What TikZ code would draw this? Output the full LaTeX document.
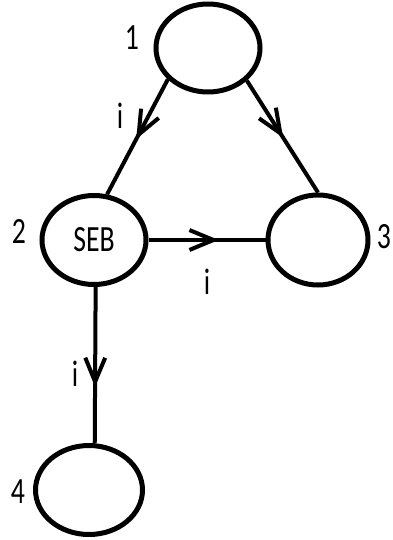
\documentclass[tikz,border=0pt]{standalone}
\usepackage{fontspec}
\setmainfont{Carlito}
\usetikzlibrary{shapes.geometric,arrows.meta,decorations.markings}
\newcommand{\nt}[1]{\scalebox{0.75}[1]{#1}}
\begin{document}
\begin{tikzpicture}[x=1pt,y=-1pt,
  state/.style={ellipse, draw, line width=5pt, inner sep=0pt, font=\fontsize{37}{42}\selectfont},
  lbl/.style={inner sep=0pt, font=\fontsize{37}{42}\selectfont, text=black},
  flow/.style={line width=4pt, postaction={decorate},
    decoration={markings, mark=at position #1 with {\arrow{Straight Barb[angle=45:26pt, line width=4pt]}}}}]
\useasboundingbox (0,0) rectangle (392,540);
% states
\node[state, minimum width=104pt, minimum height=88pt] (n1) at (208,48) {};
\node[state, minimum width=104pt, minimum height=89pt] (n2) at (94,240) {\nt{SEB}};
\node[state, minimum width=100pt, minimum height=90pt] (n3) at (318,240) {};
\node[state, minimum width=107pt, minimum height=89pt] (n4) at (89,490) {};
% state labels
\node[lbl] (l1) at (132,38) {\nt{1}};
\node[lbl] (l2) at (19,231) {\nt{2}};
\node[lbl] (l3) at (384,237) {\nt{3}};
\node[lbl] (l4) at (18,492) {\nt{4}};
% connectors
\draw[flow=0.52] (n1.218) -- (n2.74);
\draw[flow=0.51] (n1.320) -- (n3.90);
\draw[flow=0.6] (n2.east) -- (n3.west);
\draw[flow=0.64] (n2.272) -- (n4.83);
% connector labels
\node[lbl] (i1) at (120,116) {\nt{i}};
\node[lbl] (i2) at (207,282) {\nt{i}};
\node[lbl] (i3) at (75,374) {\nt{i}};
\end{tikzpicture}
\end{document}
